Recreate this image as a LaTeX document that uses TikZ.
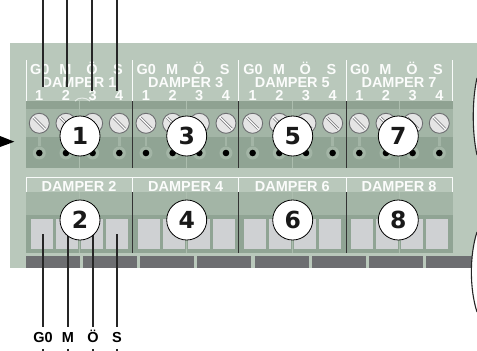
\documentclass[tikz,border=0pt]{standalone}
\usepackage{fontspec}
\setsansfont{Liberation Sans}
\newfontfamily\badgefont{DejaVu Sans}
\definecolor{panel}{HTML}{B9C8BB}
\definecolor{band}{HTML}{8FA292}
\definecolor{midgreen}{HTML}{A3B5A6}
\definecolor{lowgreen}{HTML}{90A494}
\definecolor{strip}{HTML}{6D6E71}
\definecolor{port}{HTML}{CFD1D3}
\tikzset{
    screwhead/.style={circle,draw=strip,line width=0.9pt,fill=black!10,minimum size=20pt,inner sep=0pt},
    contact/.style={circle,fill=black,minimum size=6.6pt,inner sep=0pt},
    contactring/.style={circle,fill=midgreen,minimum size=13pt,inner sep=0pt},
    stem/.style={midgreen,line width=2.5pt},
    badge/.style={circle,draw=black,line width=0.8pt,fill=white,minimum size=40pt,inner sep=0pt,
        font=\badgefont\bfseries\fontsize{23.5}{24}\selectfont,text=black!90},
    paneltext/.style={inner sep=0pt,text height=10.4pt,text depth=0pt,text=white!94!panel,
        font=\sffamily\bfseries\fontsize{14.5}{14.5}\selectfont},
    wirelabel/.style={inner sep=0pt,text height=10.4pt,text depth=0pt,minimum height=22pt,text=black,
        font=\sffamily\bfseries\fontsize{14.5}{14.5}\selectfont},
    wire/.style={black!85,line width=1.4pt},
    rail/.style={white!92!panel,line width=1pt},
    divider/.style={black!80,line width=0.9pt},
    seam/.style={midgreen!60!panel,line width=0.5pt},
    rim/.style={black!85,line width=1.1pt}
}
\begin{document}
\begin{tikzpicture}[x=1pt,y=-1pt]
    \useasboundingbox (0,0) rectangle (477,351);
    \clip (0,0) rectangle (477,351);
    \fill[panel] (10,43) rectangle (477,268);
    % upper terminal block
    \fill[lowgreen] (26,101) rectangle (453,168.3);
    \fill[midgreen] (26,109.3) rectangle (453,137.3);
    \fill[band] (26,101) rectangle (453,109.3);
    % lower terminal block
    \fill[lowgreen] (26,192) rectangle (453,253);
    \fill[midgreen] (26,192) rectangle (453,215);
    \foreach \b in {0,...,3}
        \foreach \i in {0,...,3}
            \fill[port] (31+106.67*\b+25*\i,219) rectangle +(22,30);
    % dark strips
    \foreach \s in {26,83,140,197,255,312,369}
        \fill[strip] (\s,256) rectangle +(54,12);
    \fill[strip] (426,256) rectangle (477,268);
    % dividers and seams
    \foreach \s in {79.5,186,292.5,399} {
        \draw[seam] (\s,101) -- (\s,168);
        \draw[seam] (\s,192) -- (\s,253);
    }
    \foreach \s in {132.3,238.8,346} {
        \draw[divider] (\s,101) -- (\s,168.3);
        \draw[divider] (\s,192) -- (\s,253);
    }
    % rails
    \foreach \s in {26,132.3,238.8,346,452.7} {
        \draw[rail] (\s,60) -- (\s,101);
        \draw[rail] (\s,177.7) -- (\s,192);
    }
    \draw[rail] (26,177.7) -- (452.7,177.7);
    \draw[white!60!panel,line width=1pt] (75,101) .. controls (78,97) and (86,97) .. (90,101);
    % texts in the panel
    \foreach \b/\n in {0/1,1/3,2/5,3/7} {
        \node[paneltext] (headG\n) at (39.7+106.67*\b,68.8) {G0};
        \node[paneltext] (headM\n) at (65.5+106.67*\b,68.8) {M};
        \node[paneltext] (headO\n) at (92+106.67*\b,68.8) {Ö};
        \node[paneltext] (headS\n) at (118+106.67*\b,68.8) {S};
        \node[paneltext] (damper\n) at (79+106.67*\b,82.7) {DAMPER \n};
        \foreach \i in {1,...,4}
            \node[paneltext] (pin\n\i) at (12.6+106.67*\b+26.67*\i,95.5) {\i};
    }
    \foreach \b/\n in {0/2,1/4,2/6,3/8}
        \node[paneltext] (damper\n) at (79+106.67*\b,186.5) {DAMPER \n};
    % screws
    \foreach \b in {0,...,3}
        \foreach \i in {0,...,3} {
            \node[contactring] (ring\b\i) at (39.3+106.67*\b+26.67*\i,153) {};
            \node[screwhead] (screw\b\i) at (39.3+106.67*\b+26.67*\i,123.3) {};
            \draw[stem] (ring\b\i) -- (screw\b\i);
            \node[contact] (dot\b\i) at (ring\b\i) {};
            \draw[strip,line width=2.6pt] ([shift={(-5.6,-5.6)}]screw\b\i.center) -- ([shift={(5.6,5.6)}]screw\b\i.center);
            \draw[white,line width=1.2pt] ([shift={(-6.2,-6.2)}]screw\b\i.center) -- ([shift={(6.2,6.2)}]screw\b\i.center);
        }
    % wires to the upper block
    \coordinate (upG) at (43,87.3);
    \coordinate (upM) at (67,87.3);
    \coordinate (upO) at (92,91);
    \coordinate (upS) at (117,91);
    \coordinate (topG) at (43,0);
    \coordinate (topM) at (67,0);
    \coordinate (topO) at (92,0);
    \coordinate (topS) at (117,0);
    \draw[wire] (topG) -- (upG);
    \draw[wire] (topM) -- (upM);
    \draw[wire] (topO) -- (upO);
    \draw[wire] (topS) -- (upS);
    % wires from the lower block
    \coordinate (portG) at (43,234);
    \coordinate (portM) at (68,234);
    \coordinate (portO) at (93,234);
    \coordinate (portS) at (117,234);
    \node[wirelabel] (lblG) at (43,337.7) {G0};
    \node[wirelabel] (lblM) at (68,337.7) {M};
    \node[wirelabel] (lblO) at (93,337.7) {Ö};
    \node[wirelabel] (lblS) at (117,337.7) {S};
    \coordinate (endG) at (43,351);
    \coordinate (endM) at (68,351);
    \coordinate (endO) at (93,351);
    \coordinate (endS) at (117,351);
    \draw[wire] (portG) -- (lblG);
    \draw[wire] (portM) -- (lblM);
    \draw[wire] (portO) -- (lblO);
    \draw[wire] (portS) -- (lblS);
    \draw[wire] (lblG) -- (endG);
    \draw[wire] (lblM) -- (endM);
    \draw[wire] (lblO) -- (endO);
    \draw[wire] (lblS) -- (endS);
    % numbered circles
    \node[badge] (badgeA) at (80,136) {1};
    \node[badge] (badgeB) at (186.7,136) {3};
    \node[badge] (badgeC) at (292.7,136) {5};
    \node[badge] (badgeD) at (398.3,136) {7};
    \node[badge] (badgeE) at (80,220) {2};
    \node[badge] (badgeF) at (186.7,220) {4};
    \node[badge] (badgeG) at (292.7,220) {6};
    \node[badge] (badgeH) at (398.3,220) {8};
    % arrow and rims at the edges
    \fill[black] (0,136) -- (14.3,141.7) -- (0,147) -- cycle;
    \fill[white!85!panel] (477,78) .. controls (472,100) and (472,133) .. (477,155) -- cycle;
    \draw[rim] (477,78) .. controls (472,100) and (472,133) .. (477,155);
    \fill[white] (477,232) .. controls (469.5,255) and (469.5,289) .. (477,312) -- cycle;
    \draw[rim] (477,232) .. controls (469.5,255) and (469.5,289) .. (477,312);
\end{tikzpicture}
\end{document}
